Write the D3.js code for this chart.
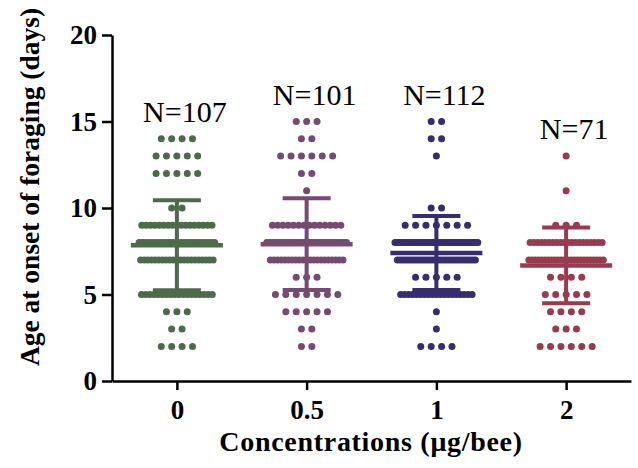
<!DOCTYPE html>
<html>
<head>
<meta charset="utf-8">
<script src="https://cdn.jsdelivr.net/npm/d3@7"></script>
<style>
body { margin: 0; background: #fff; }
text { font-family: "Liberation Serif", "Times New Roman", serif; }
</style>
</head>
<body>
<div id="chart"></div>
<script>
// categories (concentration, ug/bee)
var groups = ["0", "0.5", "1", "2"];

// age at onset of foraging, one row of dots per day
var days = [2, 3, 4, 5, 6, 7, 8, 9, 10, 11, 12, 13, 14, 15];

// number of bees per day
var counts0 = [4, 2, 3, 18, 0, 21, 26, 17, 2, 0, 5, 5, 4, 0];
var counts05 = [2, 2, 5, 7, 3, 21, 33, 14, 0, 1, 2, 6, 2, 3];
var counts1 = [4, 1, 1, 19, 5, 30, 38, 7, 2, 0, 0, 1, 2, 2];
var counts2 = [6, 3, 4, 5, 4, 24, 20, 3, 0, 1, 0, 1, 0, 0];

// mean and SD bars
var means = [7.85, 7.91, 7.40, 6.68];
var sds = [2.60, 2.65, 2.14, 2.19];

var nLabels = ["N=107", "N=101", "N=112", "N=71"];
var yTicks = [0, 5, 10, 15, 20];

var colors = ["#4d6b4a", "#774a72", "#372c6f", "#993a4f"];
var allCounts = [counts0, counts05, counts1, counts2];

var width = 638, height = 468;

var svg = d3.select("#chart").append("svg")
    .attr("width", width).attr("height", height);

var x = d3.scalePoint().domain(groups).range([112, 631]).padding(0.5);
var y = d3.scaleLinear().domain([0, 20]).range([381, 35]);

//spread dots of one row side by side, squeezing long rows
function rowWidth(n) {
    if (n < 2) return 0;
    return Math.min(10.4 * (n - 1), 60 + 0.6 * n);
}

var points = [];
allCounts.forEach(function(cs, gi) {
    cs.forEach(function(n, di) {
        var w = rowWidth(n);
        for (var i = 0; i < n; i++) {
            var off = n > 1 ? -w / 2 + i * w / (n - 1) : 0;
            points.push({ g: gi, day: days[di], off: off });
        }
    });
});

svg.append("g").selectAll("circle")
    .data(points)
    .join("circle")
    .attr("cx", function(d) { return x(groups[d.g]) + d.off; })
    .attr("cy", function(d) { return y(d.day); })
    .attr("r", 3.5)
    .attr("fill", function(d) { return colors[d.g]; });

//mean + SD bars
var bars = svg.append("g").selectAll("g")
    .data(groups)
    .join("g")
    .attr("stroke", function(d, i) { return colors[i]; })
    .attr("stroke-width", 4);

bars.append("line")
    .attr("x1", function(d) { return x(d); })
    .attr("x2", function(d) { return x(d); })
    .attr("y1", function(d, i) { return y(means[i] + sds[i]); })
    .attr("y2", function(d, i) { return y(means[i] - sds[i]); });

bars.append("line")
    .attr("x1", function(d) { return x(d) - 24; })
    .attr("x2", function(d) { return x(d) + 24; })
    .attr("y1", function(d, i) { return y(means[i] + sds[i]); })
    .attr("y2", function(d, i) { return y(means[i] + sds[i]); });

bars.append("line")
    .attr("x1", function(d) { return x(d) - 24; })
    .attr("x2", function(d) { return x(d) + 24; })
    .attr("y1", function(d, i) { return y(means[i] - sds[i]); })
    .attr("y2", function(d, i) { return y(means[i] - sds[i]); });

bars.append("line")
    .attr("x1", function(d) { return x(d) - 46; })
    .attr("x2", function(d) { return x(d) + 46; })
    .attr("y1", function(d, i) { return y(means[i]); })
    .attr("y2", function(d, i) { return y(means[i]); })
    .attr("stroke-width", 4.5);

//N labels above highest dot
svg.append("g").selectAll("text")
    .data(groups)
    .join("text")
    .attr("x", function(d) { return x(d) + 8; })
    .attr("y", function(d, i) {
        var top = d3.max(days.filter(function(dd, k) { return allCounts[i][k] > 0; }));
        return y(top) - 17;
    })
    .attr("text-anchor", "middle")
    .attr("font-size", 30)
    .attr("fill", "#000")
    .text(function(d, i) { return nLabels[i]; });

//axes
var yAxis = svg.append("g")
    .attr("transform", "translate(112,0)")
    .call(d3.axisLeft(y).tickValues(yTicks).tickSize(10).tickSizeOuter(0).tickPadding(5));

var xAxis = svg.append("g")
    .attr("transform", "translate(0,381)")
    .call(d3.axisBottom(x).tickSize(9).tickSizeOuter(0).tickPadding(10));

[yAxis, xAxis].forEach(function(a) {
    a.selectAll("path, line").attr("stroke", "#000").attr("stroke-width", 2.5);
    a.selectAll("text")
        .attr("fill", "#000")
        .attr("font-size", 27)
        .attr("font-weight", "bold")
        .style("font-family", "'Liberation Serif', serif");
});

svg.append("text")
    .attr("x", 371)
    .attr("y", 451)
    .attr("text-anchor", "middle")
    .attr("font-size", 28)
    .attr("font-weight", "bold")
    .attr("letter-spacing", 0.7)
    .text("Concentrations (\u03bcg/bee)");

svg.append("text")
    .attr("transform", "translate(39,187) rotate(-90)")
    .attr("text-anchor", "middle")
    .attr("font-size", 27.5)
    .attr("font-weight", "bold")
    .text("Age at onset of foraging (days)");
</script>
</body>
</html>
